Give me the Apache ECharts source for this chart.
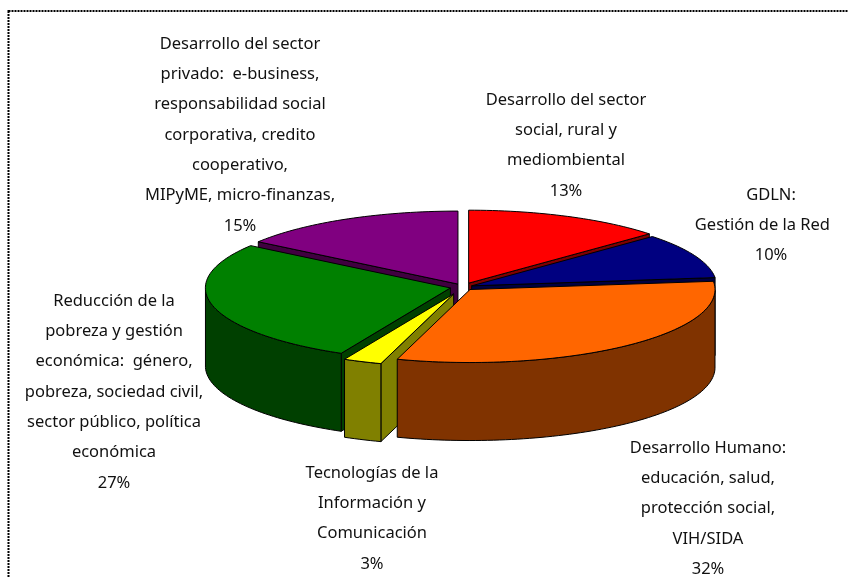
<!DOCTYPE html>
<html>
<head>
<meta charset="utf-8">
<style>
html, body { margin: 0; padding: 0; background: #fff; }
#chart { width: 848px; height: 578px; }
</style>
<script src="https://cdn.jsdelivr.net/npm/echarts@6/dist/echarts.min.js"></script>
</head>
<body>
<div id="chart"></div>
<script>
// shares, the labels show them rounded
const names = [
  'Desarrollo del sector\nsocial, rural y\nmediombiental',
  'GDLN:\nGestión de la Red    ',
  'Desarrollo Humano:\neducación, salud,\nprotección social,\nVIH/SIDA',
  'Tecnologías de la\nInformación y\nComunicación',
  'Reducción de la\npobreza y gestión\neconómica:  género,\npobreza, sociedad civil,\nsector público, política\neconómica',
  'Desarrollo del sector\nprivado:  e-business,\nresponsabilidad social\ncorporativa, credito\ncooperativo,\nMIPyME, micro-finanzas,'
]
const shares = [13.2, 10, 31.6, 2.55, 27.49, 15.16]
const topColors = ['#FF0000', '#000080', '#FF6600', '#FFFF00', '#008000', '#800080']
const sideColors = ['#800000', '#000040', '#803300', '#808000', '#004000', '#400040']

// pie drawing settings
const cx = 463
const cy = 287
const rx = 245
const ry = 73
const depth = 78
const explode = [14, 9.5, 11, 25, 13, 11]
const drawOrder = [5, 0, 1, 4, 3, 2]
const labelPos = [[566, 85], [771, 180], [708, 433], [372, 458], [114, 286], [240, 29]]

const total = shares.reduce((a, b) => a + b, 0)
const angles = []
let sum = 0
shares.forEach((v) => {
  angles.push([sum / total * 2 * Math.PI, (sum + v) / total * 2 * Math.PI])
  sum += v
})

function renderSlice(params, api) {
  const i = api.value(0)
  const a0 = angles[i][0]
  const a1 = angles[i][1]
  const mid = (a0 + a1) / 2
  const ox = cx + explode[i] * Math.sin(mid)
  const oy = cy - explode[i] * Math.cos(mid) * ry / rx
  const pt = (a) => [ox + rx * Math.sin(a), oy - ry * Math.cos(a)]
  const down = (p) => [p[0], p[1] + depth]
  const stroke = { stroke: '#000', lineWidth: 1 }

  const arc = []
  const steps = Math.max(2, Math.ceil((a1 - a0) * 40))
  for (let s = 0; s <= steps; s++) arc.push(pt(a0 + (a1 - a0) * s / steps))

  const children = []
  // cut faces, only those turned towards the viewer
  const cuts = []
  if (Math.sin(a0) < -1e-6) cuts.push(a0)
  if (Math.sin(a1) > 1e-6) cuts.push(a1)
  cuts.forEach((a) => {
    const p = pt(a)
    children.push({
      type: 'polygon',
      shape: { points: [[ox, oy], p, down(p), [ox, oy + depth]] },
      style: Object.assign({ fill: sideColors[i] }, stroke)
    })
  })
  // outer wall, only the front half of the ellipse
  const front = arc.filter((p, k) => {
    const a = a0 + (a1 - a0) * k / steps
    return a >= Math.PI / 2 && a <= Math.PI * 1.5
  })
  if (front.length > 1) {
    children.push({
      type: 'polygon',
      shape: { points: front.concat(front.slice().reverse().map(down)) },
      style: Object.assign({ fill: sideColors[i] }, stroke)
    })
  }
  children.push({
    type: 'polygon',
    shape: { points: [[ox, oy]].concat(arc) },
    style: Object.assign({ fill: topColors[i] }, stroke)
  })
  return { type: 'group', children: children }
}

const labelFont = { fontFamily: '"Noto Sans", sans-serif', fontSize: 16.5, fill: '#111', lineHeight: 30.3, align: 'center', verticalAlign: 'top' }

const chart = echarts.init(document.getElementById('chart'), null, { renderer: 'canvas' })
chart.setOption({
  animation: false,
  backgroundColor: '#fff',
  graphic: [
    { type: 'rect', silent: true, shape: { x: 8.5, y: 11, width: 900, height: 700 },
      style: { fill: 'none', stroke: '#000', lineWidth: 2, lineDash: [2, 1] } }
  ].concat(names.map((n, i) => ({
    type: 'text', silent: true, x: labelPos[i][0], y: labelPos[i][1], z: 10,
    style: Object.assign({ text: n + '\n' + Math.round(shares[i]) + '%' }, labelFont)
  }))),
  series: [
    {
      type: 'custom',
      coordinateSystem: 'none',
      renderItem: renderSlice,
      data: drawOrder.map((i) => [i])
    }
  ]
})
</script>
</body>
</html>
